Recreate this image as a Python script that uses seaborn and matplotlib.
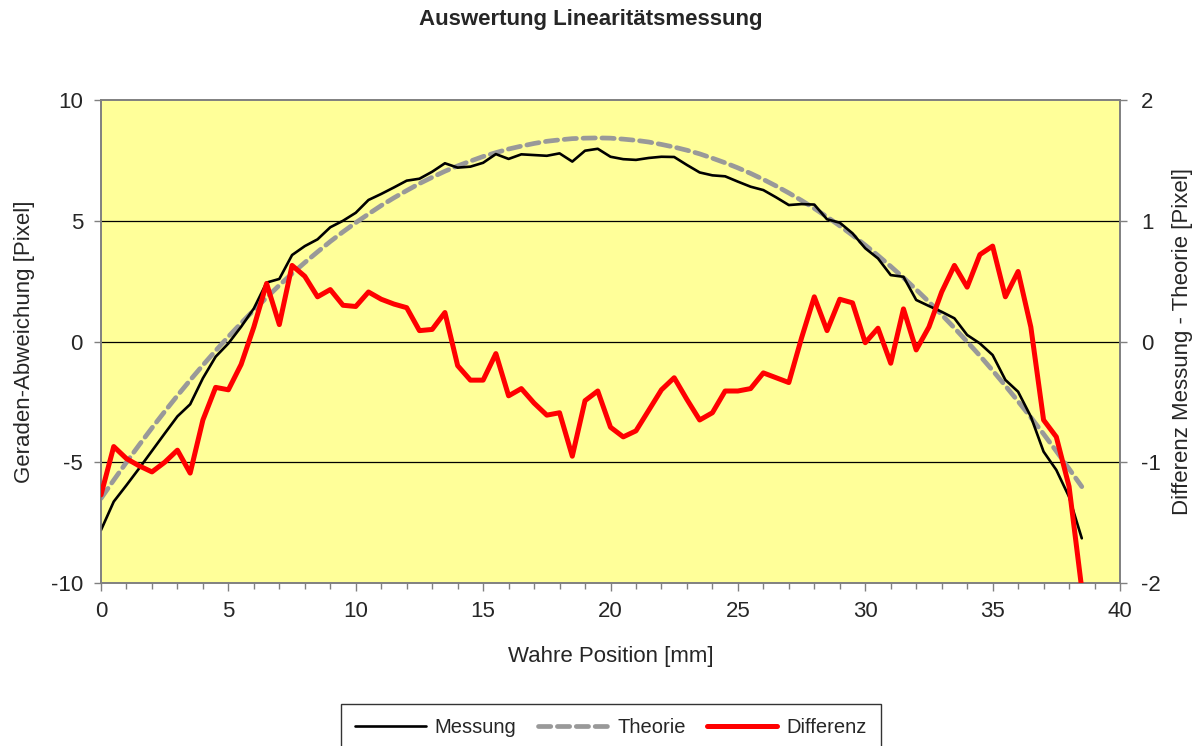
import numpy as np
import pandas as pd
import matplotlib
matplotlib.use("Agg")
import matplotlib.pyplot as plt
import seaborn as sns
from matplotlib.ticker import MultipleLocator

# Measurement positions in mm (0.5 mm steps)
position = np.arange(0, 38.51, 0.5)

# Measured deviation from the straight line [Pixel]
messung = [
    -7.81, -6.63, -5.95, -5.25, -4.53, -3.81, -3.10, -2.60, -1.52, -0.63,
    -0.08, 0.61, 1.37, 2.44, 2.59, 3.58, 3.95, 4.23, 4.73, 5.00,
    5.33, 5.86, 6.11, 6.38, 6.66, 6.74, 7.03, 7.38, 7.20, 7.24,
    7.40, 7.76, 7.56, 7.75, 7.72, 7.69, 7.79, 7.45, 7.90, 7.98,
    7.65, 7.55, 7.52, 7.60, 7.65, 7.64, 7.31, 7.00, 6.88, 6.84,
    6.62, 6.41, 6.27, 5.97, 5.65, 5.69, 5.67, 5.06, 4.92, 4.48,
    3.86, 3.44, 2.75, 2.68, 1.72, 1.47, 1.23, 0.96, 0.27, -0.08,
    -0.56, -1.59, -2.08, -3.11, -4.56, -5.32, -6.43, -8.15,
]

# Theoretical deviation [Pixel]
theorie = [
    -6.50, -5.74, -5.00, -4.28, -3.58, -2.90, -2.24, -1.60, -0.98, -0.38,
    0.20, 0.76, 1.30, 1.82, 2.33, 2.81, 3.27, 3.71, 4.14, 4.54,
    4.92, 5.28, 5.63, 5.95, 6.25, 6.54, 6.80, 7.05, 7.27, 7.47,
    7.66, 7.82, 7.97, 8.09, 8.20, 8.29, 8.35, 8.40, 8.42, 8.43,
    8.42, 8.38, 8.33, 8.26, 8.16, 8.05, 7.92, 7.77, 7.59, 7.40,
    7.19, 6.96, 6.71, 6.44, 6.15, 5.84, 5.51, 5.16, 4.79, 4.40,
    3.99, 3.56, 3.11, 2.64, 2.15, 1.64, 1.11, 0.56, -0.01, -0.59,
    -1.20, -1.83, -2.48, -3.14, -3.83, -4.54, -5.27, -6.01,
]

# Difference measurement - theory [Pixel]
differenz = [
    -1.27, -0.87, -0.97, -1.03, -1.08, -1.00, -0.90, -1.09, -0.65, -0.38,
    -0.40, -0.19, 0.12, 0.48, 0.14, 0.63, 0.54, 0.37, 0.43, 0.30,
    0.29, 0.41, 0.35, 0.31, 0.28, 0.09, 0.10, 0.24, -0.20, -0.32,
    -0.32, -0.10, -0.45, -0.39, -0.51, -0.61, -0.59, -0.95, -0.49, -0.41,
    -0.71, -0.79, -0.74, -0.57, -0.40, -0.30, -0.48, -0.65, -0.59, -0.41,
    -0.41, -0.39, -0.26, -0.30, -0.34, 0.03, 0.37, 0.09, 0.35, 0.32,
    -0.01, 0.11, -0.18, 0.27, -0.07, 0.12, 0.41, 0.63, 0.45, 0.72,
    0.79, 0.37, 0.58, 0.12, -0.65, -0.79, -1.20, -2.05,
]

df = pd.DataFrame({
    "Position": position,
    "Messung": messung,
    "Theorie": theorie,
    "Differenz": differenz,
})

sns.set_theme(style="white")
plt.rcParams["font.family"] = ["Liberation Sans", "DejaVu Sans"]
plt.rcParams["axes.unicode_minus"] = False

FS = 16

fig = plt.figure(figsize=(11.94, 7.46), dpi=100)
ax = fig.add_axes([101 / 1194, 1 - 583 / 746, (1120 - 101) / 1194, (583 - 100) / 746])
ax.set_facecolor("#FFFF99")

spine_col = "#808080"

# Horizontal grid lines on the left axis
for yv in (-5, 0, 5):
    ax.axhline(yv, color="black", lw=0.9, zorder=1)

sns.lineplot(data=df, x="Position", y="Messung", ax=ax, color="black",
             lw=1.9, label="Messung", legend=False, zorder=4)
sns.lineplot(data=df, x="Position", y="Theorie", ax=ax, color="#999999",
             lw=3.4, dashes=False, label="Theorie", legend=False, zorder=3)
ax.lines[-1].set_dashes((2.6, 1.4))
ax.lines[-1].set_dash_capstyle("round")

ax.set_xlim(0, 40)
ax.set_ylim(-10, 10)
ax.xaxis.set_major_locator(MultipleLocator(5))
ax.xaxis.set_minor_locator(MultipleLocator(1))
ax.yaxis.set_major_locator(MultipleLocator(5))
ax.tick_params(axis="x", which="major", direction="out", length=6, width=1,
               color=spine_col, labelsize=FS, pad=7, bottom=True)
ax.tick_params(axis="x", which="minor", direction="out", length=4, width=1,
               color=spine_col, bottom=True)
ax.tick_params(axis="y", direction="out", length=5, width=1, color=spine_col,
               labelsize=FS, pad=8, left=True)
ax.set_xlabel("Wahre Position [mm]", fontsize=FS, labelpad=17)
ax.set_ylabel("Geraden-Abweichung [Pixel]", fontsize=FS, labelpad=11)

ax2 = ax.twinx()
sns.lineplot(data=df, x="Position", y="Differenz", ax=ax2, color="#FF0000",
             lw=3.6, label="Differenz", legend=False, zorder=5)
ax2.set_ylim(-2, 2)
ax2.yaxis.set_major_locator(MultipleLocator(1))
ax2.tick_params(axis="y", direction="out", length=5, width=1, color=spine_col,
                labelsize=FS, pad=10, right=True)
ax2.set_ylabel("Differenz Messung - Theorie [Pixel]", fontsize=FS, labelpad=8)
ax2.set_xlabel("")

for a in (ax, ax2):
    for s in a.spines.values():
        s.set_color(spine_col)
        s.set_linewidth(1.2)

fig.suptitle("Auswertung Linearitätsmessung", fontsize=FS, fontweight="bold",
             x=591 / 1194, y=1 - 19 / 746, va="center")

handles = [h for h in ax.get_lines() if h.get_label() in ("Messung", "Theorie")]
handles += [h for h in ax2.get_lines() if h.get_label() == "Differenz"]
leg = fig.legend(handles=handles, labels=["Messung", "Theorie", "Differenz"],
                 loc="upper center", bbox_to_anchor=(611 / 1194, 1 - 704 / 746),
                 ncol=3, frameon=True, fancybox=False, fontsize=14.5,
                 handlelength=3.5, columnspacing=1.05, handletextpad=0.45,
                 borderpad=0.7, borderaxespad=0)
leg.get_frame().set_edgecolor("black")
leg.get_frame().set_linewidth(1.0)

fig.savefig("out.png", dpi=100)
